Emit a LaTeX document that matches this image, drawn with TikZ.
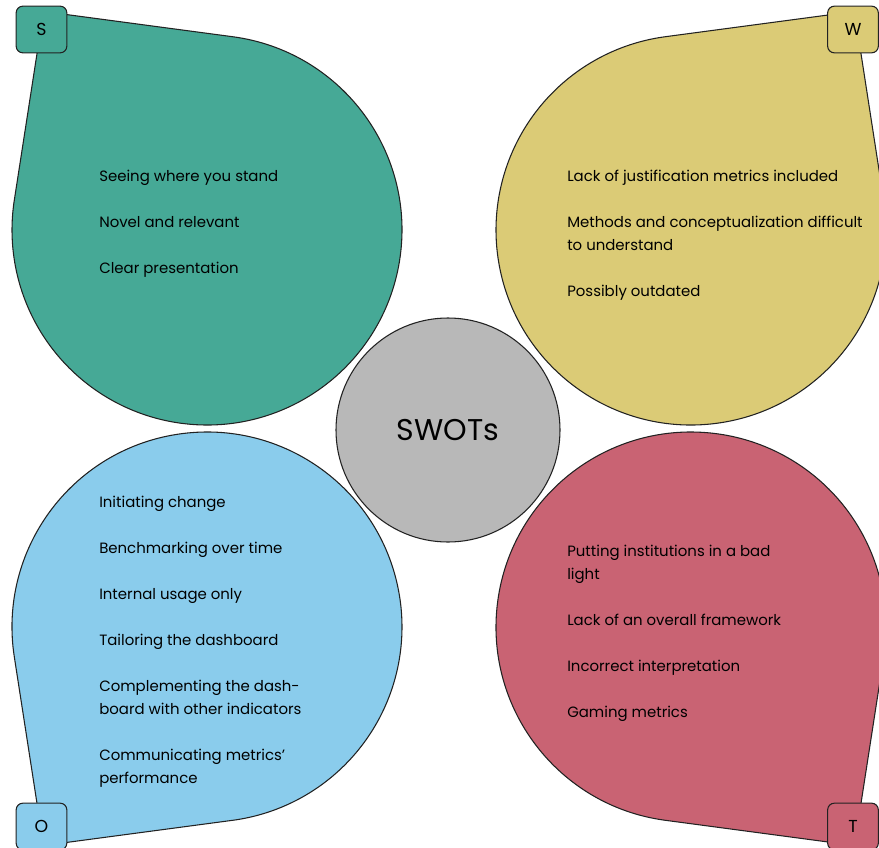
\documentclass[tikz,border=0pt]{standalone}
\usepackage{fontspec}
\setmainfont{Poppins}
\usetikzlibrary{calc}

\definecolor{sColor}{RGB}{70,169,150}
\definecolor{wColor}{RGB}{219,203,118}
\definecolor{oColor}{RGB}{138,204,236}
\definecolor{tColor}{RGB}{201,99,115}
\definecolor{hubColor}{RGB}{184,184,184}
\definecolor{lineColor}{RGB}{34,34,34}

% petal: style, centre, angle of the tip
\newcommand{\petal}[3]{%
  \draw[#1] ($(#2)+(#3:272.9)$) -- ($(#2)+(#3+44.4:195)$)
    arc[start angle=#3+44.4, delta angle=271.2, radius=195] -- cycle;
}

\begin{document}
\begin{tikzpicture}[
  x=0.75pt, y=-0.75pt,
  petalshape/.style={draw=lineColor, line width=0.8pt},
  tab/.style={
    rectangle,
    rounded corners=5pt,
    draw=lineColor,
    line width=0.8pt,
    minimum width=38pt,
    minimum height=35pt,
    inner sep=0pt,
    font=\fontsize{13}{15}\selectfont
  },
  items/.style={
    anchor=north west,
    inner sep=0pt,
    align=left,
    text=black,
    font=\fontsize{11.2}{17.25}\selectfont
  }
]
\useasboundingbox (0,0) rectangle (879,847);

% --- CENTRES -------------------------------------------------------
\coordinate (sC) at (207,230);
\coordinate (wC) at (691,230);
\coordinate (oC) at (207,627);
\coordinate (tC) at (691,627);

% --- PETALS --------------------------------------------------------
\petal{petalshape, fill=sColor}{sC}{233.2}
\petal{petalshape, fill=wColor}{wC}{306.8}
\petal{petalshape, fill=oColor}{oC}{126.8}
\petal{petalshape, fill=tColor}{tC}{53.2}

% --- CORNER TABS ---------------------------------------------------
\node[tab, fill=sColor] (sTab) at (41.5,29.5) {S};
\node[tab, fill=wColor] (wTab) at (853,29.5) {W};
\node[tab, fill=oColor] (oTab) at (41.5,826.5) {O};
\node[tab, fill=tColor] (tTab) at (853,826.5) {T};

% --- HUB -----------------------------------------------------------
\node[circle, draw=lineColor, line width=0.8pt, fill=hubColor,
      minimum size=168pt, font=\fontsize{22.5}{26}\selectfont] (hub)
      at (448,430) {SWOTs};

% --- STRENGTHS -----------------------------------------------------
\node[items] (sItems) at (99,170) {
  Seeing where you stand\\[17.25pt]
  Novel and relevant\\[17.25pt]
  Clear presentation
};

% --- WEAKNESSES ----------------------------------------------------
\node[items] (wItems) at (567,170) {
  Lack of justification metrics included\\[17.25pt]
  Methods and conceptualization difficult\\
  to understand\\[17.25pt]
  Possibly outdated
};

% --- OPPORTUNITIES -------------------------------------------------
\node[items] (oItems) at (99,496) {
  Initiating change\\[17.25pt]
  Benchmarking over time\\[17.25pt]
  Internal usage only\\[17.25pt]
  Tailoring the dashboard\\[17.25pt]
  Complementing the dash-\\
  board with other indicators\\[17.25pt]
  Communicating metrics’\\
  performance
};

% --- THREATS -------------------------------------------------------
\node[items] (tItems) at (567,545) {
  Putting institutions in a bad\\
  light\\[17.25pt]
  Lack of an overall framework\\[17.25pt]
  Incorrect interpretation\\[17.25pt]
  Gaming metrics
};

\end{tikzpicture}
\end{document}
